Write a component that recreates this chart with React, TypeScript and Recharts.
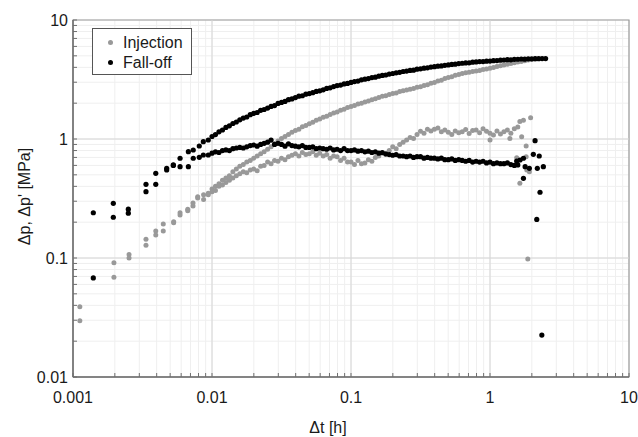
import React from 'react';
import {
  ScatterChart,
  Scatter,
  XAxis,
  YAxis,
  CartesianGrid,
  ReferenceLine,
  ReferenceArea,
  Legend,
  Label,
} from 'recharts';

// Δt [h] sampling of the dense part of both tests
const denseTime = [
  0.01, 0.01059, 0.01122, 0.01189, 0.01259, 0.01334, 0.01413, 0.01496, 0.01585, 0.01679,
  0.01778, 0.01884, 0.01995, 0.02113, 0.02239, 0.02371, 0.02512, 0.02661, 0.02818, 0.02985,
  0.03162, 0.0335, 0.03548, 0.03758, 0.03981, 0.04217, 0.04467, 0.04732, 0.05012, 0.05309,
  0.05623, 0.05957, 0.0631, 0.06683, 0.07079, 0.07499, 0.07943, 0.08414, 0.08913, 0.09441,
  0.1, 0.1059, 0.1122, 0.1189, 0.1259, 0.1334, 0.1413, 0.1496, 0.1585, 0.1679,
  0.1778, 0.1884, 0.1995, 0.2113, 0.2239, 0.2371, 0.2512, 0.2661, 0.2818, 0.2985,
  0.3162, 0.335, 0.3548, 0.3758, 0.3981, 0.4217, 0.4467, 0.4732, 0.5012, 0.5309,
  0.5623, 0.5957, 0.631, 0.6683, 0.7079, 0.7499, 0.7943, 0.8414, 0.8913, 0.9441,
  1, 1.059, 1.122, 1.189, 1.259, 1.334, 1.413, 1.496, 1.585, 1.679,
  1.778, 1.884, 1.995, 2.113, 2.239, 2.371, 2.512,
];

// Injection test
const injEarlyTime = [0.00112, 0.00197, 0.00253, 0.00335, 0.00394, 0.00446, 0.0053, 0.00589, 0.00669, 0.0073, 0.00789, 0.0087, 0.0094];
const injEarlyP = [0.039, 0.0914, 0.107, 0.1435, 0.169, 0.193, 0.202, 0.24, 0.257, 0.29, 0.327, 0.34, 0.35];
const injEarlyD = [0.0297, 0.069, 0.1, 0.128, 0.156, 0.169, 0.198, 0.23, 0.25, 0.273, 0.32, 0.31, 0.34];

const injPressure = [
  0.38, 0.4, 0.42, 0.45, 0.47, 0.49, 0.53, 0.56, 0.59, 0.61,
  0.64, 0.66, 0.69, 0.72, 0.75, 0.78, 0.82, 0.86, 0.91, 0.96,
  1.01, 1.05, 1.09, 1.14, 1.18, 1.21, 1.27, 1.3, 1.34, 1.38,
  1.44, 1.47, 1.52, 1.55, 1.61, 1.65, 1.69, 1.74, 1.78, 1.84,
  1.88, 1.91, 1.97, 2.0, 2.05, 2.09, 2.14, 2.18, 2.23, 2.29,
  2.31, 2.37, 2.41, 2.44, 2.51, 2.54, 2.58, 2.62, 2.66, 2.72,
  2.75, 2.82, 2.86, 2.94, 2.98, 3.07, 3.12, 3.22, 3.29, 3.34,
  3.44, 3.49, 3.55, 3.61, 3.63, 3.7, 3.73, 3.77, 3.84, 3.88,
  3.93, 3.99, 4.06, 4.12, 4.19, 4.24, 4.31, 4.38, 4.44, 4.49,
  4.55, 4.61, 4.66, 4.7,
];

const injDerivative = [
  0.36, 0.37, 0.4, 0.41, 0.43, 0.45, 0.47, 0.49, 0.51, 0.53,
  0.52, 0.55, 0.56, 0.54, 0.59, 0.6, 0.64, 0.62, 0.66, 0.65,
  0.69, 0.67, 0.71, 0.73, 0.75, 0.72, 0.77, 0.74, 0.75, 0.78,
  0.73, 0.76, 0.72, 0.74, 0.69, 0.72, 0.71, 0.66, 0.69, 0.64,
  0.64, 0.61, 0.66, 0.62, 0.63, 0.67, 0.65, 0.7, 0.72, 0.76,
  0.74, 0.8, 0.86, 0.83, 0.9, 0.94, 0.98, 1.03, 1.01, 1.09,
  1.16, 1.12, 1.21, 1.17, 1.21, 1.24, 1.15, 1.19, 1.14, 1.09,
  1.17, 1.13, 1.15, 1.2, 1.11, 1.18, 1.19, 1.13, 1.22, 1.16,
  1.12, 1.08, 1.17, 1.1, 1.15, 1.19, 1.12, 1.22, 1.26,
];

const injTailTime = [1.39, 1.69, 1.82, 1.556, 1.84, 1.64, 1.92, 1.64, 1.74, 1.96, 1.87, 1.0, 1.82];
const injTailD = [1.01, 1.045, 0.873, 0.697, 0.549, 0.424, 0.531, 1.4, 1.44, 1.51, 0.098, 0.98, 0.71];

// Fall-off test
const foEarlyTime = [0.0014, 0.00195, 0.0025, 0.00335, 0.00394, 0.00472, 0.00527, 0.00589, 0.00676, 0.00733, 0.0081, 0.00866, 0.0094];
const foEarlyP = [0.24, 0.288, 0.257, 0.416, 0.515, 0.567, 0.605, 0.689, 0.782, 0.808, 0.873, 0.949, 0.981];
const foEarlyD = [0.068, 0.22, 0.238, 0.361, 0.416, 0.549, 0.6, 0.585, 0.585, 0.689, 0.702, 0.734, 0.734];

const foPressure = [
  1.05, 1.09, 1.15, 1.19, 1.25, 1.29, 1.35, 1.39, 1.45, 1.5,
  1.53, 1.6, 1.64, 1.67, 1.74, 1.77, 1.82, 1.88, 1.91, 1.99,
  2.03, 2.07, 2.14, 2.17, 2.23, 2.29, 2.31, 2.38, 2.41, 2.45,
  2.51, 2.54, 2.59, 2.66, 2.69, 2.76, 2.81, 2.84, 2.9, 2.93,
  2.99, 3.04, 3.07, 3.14, 3.18, 3.22, 3.28, 3.31, 3.37, 3.42,
  3.45, 3.51, 3.55, 3.6, 3.63, 3.69, 3.72, 3.77, 3.79, 3.86,
  3.89, 3.94, 3.96, 4.02, 4.05, 4.09, 4.11, 4.16, 4.19, 4.23,
  4.25, 4.3, 4.33, 4.36, 4.37, 4.42, 4.44, 4.47, 4.47, 4.51,
  4.52, 4.55, 4.56, 4.6, 4.61, 4.64, 4.63, 4.67, 4.68, 4.7,
  4.69, 4.72, 4.72, 4.73, 4.73, 4.74, 4.74,
];

const foDerivative = [
  0.76, 0.78, 0.77, 0.8, 0.81, 0.8, 0.83, 0.84, 0.85, 0.84,
  0.86, 0.88, 0.89, 0.87, 0.9, 0.92, 0.94, 0.98, 0.9, 0.92,
  0.9, 0.87, 0.91, 0.88, 0.87, 0.86, 0.88, 0.85, 0.85, 0.86,
  0.83, 0.84, 0.83, 0.82, 0.84, 0.81, 0.82, 0.8, 0.83, 0.8,
  0.8, 0.81, 0.79, 0.8, 0.78, 0.79, 0.77, 0.78, 0.76, 0.77,
  0.75, 0.74, 0.73, 0.74, 0.72, 0.72, 0.71, 0.72, 0.7, 0.71,
  0.71, 0.69, 0.7, 0.69, 0.69, 0.68, 0.69, 0.67, 0.67, 0.68,
  0.66, 0.67, 0.66, 0.65, 0.66, 0.64, 0.65, 0.64, 0.65, 0.63,
  0.64, 0.62, 0.63, 0.62, 0.62, 0.63, 0.61, 0.6, 0.605,
];

const foTailTime = [1.556, 1.644, 1.74, 1.74, 1.79, 1.92, 2.05, 2.11, 2.19, 2.26, 2.29, 2.17, 2.42, 2.36];
const foTailD = [0.653, 0.666, 0.689, 0.467, 0.585, 0.567, 0.744, 0.968, 0.567, 0.72, 0.357, 0.211, 0.585, 0.0225];

const seriesNames = ['Injection', 'Fall-off'];
const seriesColors = ['#999999', '#000000'];

const xDecades = [0.001, 0.01, 0.1, 1, 10];
const yDecades = [0.01, 0.1, 1, 10];
const minorSteps = [1, 2, 3, 4, 5, 6, 7, 8, 9];

const buildTicks = (decades: number[]) =>
  decades
    .slice(0, -1)
    .flatMap((d) => minorSteps.map((m) => +(d * m).toPrecision(3)))
    .concat(decades[decades.length - 1]);

const xTicks = buildTicks(xDecades);
const yTicks = buildTicks(yDecades);

const toPoints = (time: number[], values: number[]) =>
  values.map((v, i) => ({ t: time[i], v }));

const injectionData = [
  ...toPoints(injEarlyTime, injEarlyP),
  ...toPoints(injEarlyTime, injEarlyD),
  ...toPoints(denseTime, injPressure),
  ...toPoints(denseTime, injDerivative),
  ...toPoints(injTailTime, injTailD),
];

const fallOffData = [
  ...toPoints(foEarlyTime, foEarlyP),
  ...toPoints(foEarlyTime, foEarlyD),
  ...toPoints(denseTime, foPressure),
  ...toPoints(denseTime, foDerivative),
  ...toPoints(foTailTime, foTailD),
];

const FONT = '"Liberation Sans", Arial, sans-serif';
const AXIS_COLOR = '#6e6e6e';

const isDecade = (v: number) => Math.abs(Math.log10(v) - Math.round(Math.log10(v))) < 1e-6;

const XTick = ({ x, y, payload }: any) => (
  <g>
    <line x1={x} x2={x} y1={y} y2={y - 4} stroke={AXIS_COLOR} strokeWidth={1} />
    {isDecade(payload.value) && (
      <text x={x} y={y + 26} textAnchor="middle" fontSize={16} fontFamily={FONT} fill="#1a1a1a">
        {String(payload.value)}
      </text>
    )}
  </g>
);

const YTick = ({ x, y, payload }: any) => (
  <g>
    <line x1={x} x2={x + 4} y1={y} y2={y} stroke={AXIS_COLOR} strokeWidth={1} />
    {isDecade(payload.value) && (
      <text x={x - 5} y={y + 6} textAnchor="end" fontSize={16} fontFamily={FONT} fill="#1a1a1a">
        {String(payload.value)}
      </text>
    )}
  </g>
);

const dot = (color: string, r: number) => (props: any) =>
  <circle cx={props.cx} cy={props.cy} r={r} fill={color} />;

const LegendBox = () => (
  <div
    style={{
      position: 'relative',
      width: 100,
      height: 47,
      boxSizing: 'border-box',
      border: '1px solid #555',
      background: '#fff',
      fontFamily: FONT,
      fontSize: 16,
      color: '#1a1a1a',
    }}
  >
    {seriesNames.map((name, i) => (
      <div key={name} style={{ position: 'absolute', left: 0, top: 4 + i * 20, height: 20, width: 98 }}>
        <span
          style={{
            position: 'absolute',
            left: 15,
            top: 7,
            width: 5,
            height: 5,
            borderRadius: '50%',
            background: seriesColors[i],
          }}
        />
        <span style={{ position: 'absolute', left: 30, top: 0, lineHeight: '20px' }}>{name}</span>
      </div>
    ))}
  </div>
);

export default function App() {
  return (
    <div style={{ position: 'absolute', left: 0, top: 0, fontFamily: FONT }}>
      <ScatterChart width={638} height={437} margin={{ top: 20, right: 9, bottom: 0, left: 0 }}>
        <CartesianGrid stroke="#efefef" strokeWidth={1} />
        {xDecades.slice(1, -1).map((v) => (
          <ReferenceLine key={'x' + v} x={v} stroke="#d6d6d6" />
        ))}
        {yDecades.slice(1, -1).map((v) => (
          <ReferenceLine key={'y' + v} y={v} stroke="#d6d6d6" />
        ))}
        <ReferenceArea x1={0.001} x2={10} y1={0.01} y2={10} fill="none" stroke="#9a9a9a" strokeWidth={1.2} />
        <XAxis
          dataKey="t"
          type="number"
          scale="log"
          domain={[0.001, 10]}
          ticks={xTicks}
          interval={0}
          allowDataOverflow
          height={60}
          tickSize={0}
          tickMargin={0}
          tick={<XTick />}
          axisLine={{ stroke: AXIS_COLOR, strokeWidth: 1.5 }}
          label={
            <Label
              content={({ viewBox }: any) => (
                <text
                  x={viewBox.x + viewBox.width / 2 - 23}
                  y={viewBox.y + 56}
                  textAnchor="middle"
                  fontSize={16}
                  fontFamily={FONT}
                  fill="#1a1a1a"
                >
                  Δt [h]
                </text>
              )}
            />
          }
        />
        <YAxis
          dataKey="v"
          type="number"
          scale="log"
          domain={[0.01, 10]}
          ticks={yTicks}
          interval={0}
          allowDataOverflow
          width={73}
          tickSize={0}
          tickMargin={0}
          tick={<YTick />}
          axisLine={{ stroke: AXIS_COLOR, strokeWidth: 1.5 }}
          label={
            <Label
              content={({ viewBox }: any) => {
                const cx = viewBox.x + 24;
                const cy = viewBox.y + viewBox.height / 2 - 2;
                return (
                  <text
                    x={cx}
                    y={cy}
                    transform={`rotate(-90 ${cx} ${cy})`}
                    textAnchor="middle"
                    dominantBaseline="central"
                    fontSize={16}
                    fontFamily={FONT}
                    fill="#1a1a1a"
                  >
                    Δp, Δp' [MPa]
                  </text>
                );
              }}
            />
          }
        />
        <Legend
          layout="vertical"
          align="center"
          verticalAlign="middle"
          content={() => <LegendBox />}
          wrapperStyle={{ left: 92, top: 28, width: 100, height: 47 }}
        />
        <Scatter
          name={seriesNames[0]}
          data={injectionData}
          fill={seriesColors[0]}
          shape={dot(seriesColors[0], 2.5)}
          isAnimationActive={false}
        />
        <Scatter
          name={seriesNames[1]}
          data={fallOffData}
          fill={seriesColors[1]}
          shape={dot(seriesColors[1], 2.6)}
          isAnimationActive={false}
        />
      </ScatterChart>
    </div>
  );
}
